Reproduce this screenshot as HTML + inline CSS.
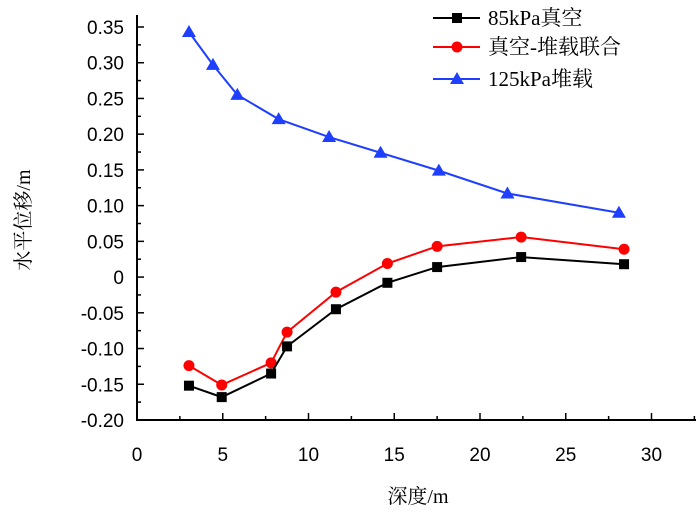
<!DOCTYPE html>
<html><head><meta charset="utf-8"><style>
body{margin:0;background:#fff}
svg text{font-family:"Liberation Sans","Noto Sans CJK SC",sans-serif;fill:#000}
svg text.serif{font-family:"Liberation Serif","Noto Serif CJK SC",serif}
</style></head><body>
<svg width="700" height="514" viewBox="0 0 700 514">
<g id="axes"></g><g id="series"></g><g id="legend"></g>
</svg>
<script>
const depthBlue=[3.03,4.43,5.85,8.26,11.2,14.2,17.6,21.6,28.1];
const valBlue=[0.343,0.297,0.255,0.221,0.196,0.174,0.149,0.117,0.090];
const depthRB=[3.03,4.94,7.82,8.75,11.6,14.6,17.5,22.4,28.4];
const valRed=[-0.124,-0.151,-0.120,-0.077,-0.021,0.019,0.043,0.056,0.039];
const valBlack=[-0.152,-0.168,-0.135,-0.097,-0.045,-0.008,0.014,0.028,0.018];
const xTicks=[0,5,10,15,20,25,30];
const yTicks=[0.35,0.30,0.25,0.20,0.15,0.10,0.05,0,-0.05,-0.10,-0.15,-0.20];
const yLabels=["0.35","0.30","0.25","0.20","0.15","0.10","0.05","0","-0.05","-0.10","-0.15","-0.20"];
const NS="http://www.w3.org/2000/svg";
const X=v=>137+17.15*v, Y=v=>27+(0.35-v)*714.5;
function mk(t,a,p){const e=document.createElementNS(NS,t);for(const k in a)e.setAttribute(k,a[k]);p.appendChild(e);return e;}
const ax=document.getElementById('axes');
let l=mk('line',{x1:137,y1:420,x2:696,y2:420,stroke:'#000','stroke-width':2},ax);


l=mk('line',{x1:137,y1:15,x2:137,y2:421,stroke:'#000','stroke-width':2},ax);


for(let v=0;v<=32.5;v+=2.5){const maj=v%5===0;mk('line',{x1:X(v),y1:420,x2:X(v),y2:maj?413:416,stroke:'#000','stroke-width':1.5},ax);}
xTicks.forEach(v=>{const t=mk('text',{x:X(v),y:461,'text-anchor':'middle','font-size':19},ax);t.textContent=v;

});
for(let v=-0.2;v<=0.351;v+=0.025){const maj=Math.round(v*1000)%50===0;mk('line',{x1:137,y1:Y(v),x2:maj?144:141,y2:Y(v),stroke:'#000','stroke-width':1.5},ax);}
yTicks.forEach((v,i)=>{const t=mk('text',{x:124,y:Y(v)+7,'text-anchor':'end','font-size':19},ax);t.textContent=yLabels[i];

});
let tt=mk('text',{x:418,y:503,'text-anchor':'middle','font-size':20,class:'serif'},ax);tt.textContent='深度/m';


tt=mk('text',{x:0,y:0,'text-anchor':'middle','font-size':20,class:'serif',transform:'translate(30,220) rotate(-90)'},ax);tt.textContent='水平位移/m';


const sg=document.getElementById('series');
function marker(sh,x,y,c,p){
 if(sh==='sq')return mk('rect',{x:x-5,y:y-5,width:10,height:10,fill:c},p);
 if(sh==='ci')return mk('circle',{cx:x,cy:y,r:5.5,fill:c},p);
 return mk('polygon',{points:`${x},${y-7} ${x-7},${y+5} ${x+7},${y+5}`,fill:c},p);
}
function series(xs,ys,c,sh,name){
 const g=mk('g',{},sg);
 
 
 mk('polyline',{points:xs.map((x,i)=>X(x)+','+Y(ys[i])).join(' '),fill:'none',stroke:c,'stroke-width':2},g);
 xs.forEach((x,i)=>{const m=marker(sh,X(x),Y(ys[i]),c,g);
 
 });
}
series(depthBlue,valBlue,'#1f3fff','tr','series-125kpa-surcharge');
series(depthRB,valRed,'#ff0000','ci','series-vacuum-surcharge');
series(depthRB,valBlack,'#000','sq','series-85kpa-vacuum');
const lg=document.getElementById('legend');
[['85kPa真空','#000','sq',18],['真空-堆载联合','#ff0000','ci',47],['125kPa堆载','#1f3fff','tr',79]].forEach(d=>{
 const g=mk('g',{},lg);
 
 
 mk('line',{x1:433,y1:d[3],x2:480,y2:d[3],stroke:d[1],'stroke-width':2},g);
 marker(d[2],457,d[3],d[1],g);
 const t=mk('text',{x:488,y:d[3]+7,'font-size':21,class:'serif'},g);t.textContent=d[0];
});
</script>
</body></html>
